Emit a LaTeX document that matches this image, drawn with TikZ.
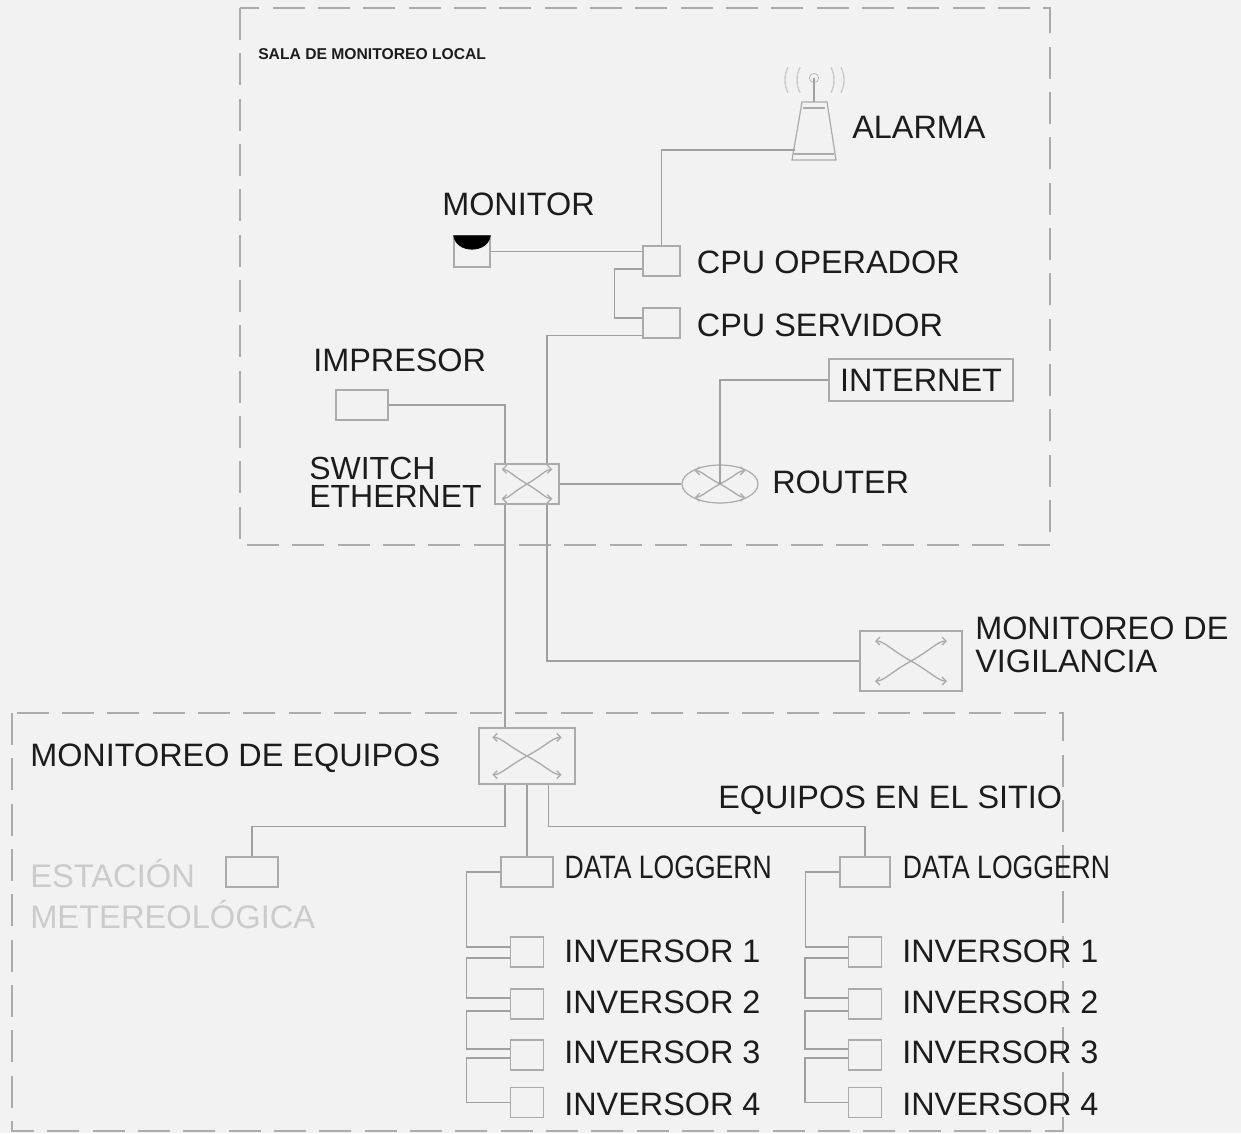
\documentclass[tikz,border=0pt]{standalone}
\usepackage{fontspec}
\setmainfont{Liberation Sans}
\newfontfamily\narrowfont[FakeStretch=0.82]{Liberation Sans}
\usepackage{xcolor}
\usetikzlibrary{arrows.meta,positioning,shapes.geometric}
\definecolor{bgcol}{HTML}{F2F2F2}
\definecolor{linecol}{HTML}{A0A0A0}
\definecolor{framecol}{HTML}{ABABAB}
\definecolor{txtcol}{HTML}{1C1C1C}
\definecolor{palecol}{HTML}{CBCBCB}

\begin{document}
\begin{tikzpicture}[
  x=0.75pt,y=-0.75pt,
  node distance=6mm and 10mm,
  wire/.style={draw=linecol,line width=0.9pt},
  frame/.style={draw=framecol,line width=1pt,dash pattern=on 24pt off 10pt},
  unit/.style={draw=framecol,line width=1pt,inner sep=0pt},
  cpubox/.style={unit,minimum width=27.75pt,minimum height=22.5pt},
  databox/.style={unit,minimum width=39pt,minimum height=22.5pt},
  invbox/.style={unit,minimum width=24.5pt,minimum height=22.5pt},
  swbox/.style={unit,minimum width=48pt,minimum height=30pt},
  txt/.style={inner sep=0pt,text=txtcol,align=left,font=\fontsize{24.3}{24.75}\selectfont},
  dltxt/.style={inner sep=0pt,text=txtcol,font=\narrowfont\fontsize{24.3}{24.75}\selectfont},
  pale/.style={inner sep=0pt,text=palecol,align=left,font=\fontsize{24.5}{31}\selectfont},
  crossarrows/.pic={
    \draw[draw=framecol,line width=1pt,{Straight Barb[length=3pt]}-{Straight Barb[length=3pt]}]
      (-1,-1) .. controls (-0.75,-1) and (-0.55,-0.55) .. (0,0) .. controls (0.55,0.55) and (0.75,1) .. (1,1);
    \draw[draw=framecol,line width=1pt,{Straight Barb[length=3pt]}-{Straight Barb[length=3pt]}]
      (-1,1) .. controls (-0.75,1) and (-0.55,0.55) .. (0,0) .. controls (0.55,-0.55) and (0.75,-1) .. (1,-1);
  }
]
\path[use as bounding box,fill=bgcol] (0,0) rectangle (1241,1133);

% sala de monitoreo local
\draw[frame] (240,8) rectangle (1050,545);
\node[inner sep=0pt,anchor=west,text=txtcol,font=\bfseries\fontsize{11.75}{12}\selectfont] (salatxt) at (258,54) {SALA DE MONITOREO LOCAL};

\coordinate (alarmain) at (795,150);
\node[draw=framecol,circle,inner sep=0pt,minimum size=7pt] (antena) at (814,78) {};
\draw[draw=framecol,line width=0.9pt] (792,160) -- (802,102) -- (827,102) -- (836,160) -- cycle;
\draw[wire] (814,102) -- (antena.center);
\draw[draw=framecol,line width=0.8pt] (803,108) -- (825,108);
\draw[draw=framecol,line width=0.8pt] (794,154) -- (834,154);
\draw[draw=palecol,line width=1pt] (800,67) .. controls (796,76) and (796,84) .. (800,93);
\draw[draw=palecol,line width=1pt] (788,67) .. controls (784,76) and (784,84) .. (788,93);
\draw[draw=palecol,line width=1pt] (831,67) .. controls (835,76) and (835,84) .. (831,93);
\draw[draw=palecol,line width=1pt] (841,67) .. controls (845,76) and (845,84) .. (841,93);
\node[txt,anchor=west] (alarmatxt) at (852,127) {ALARMA};

\node[unit,minimum width=27pt,minimum height=23.25pt] (monitor) at (472,251.5) {};
\fill[black] (monitor.north west) .. controls +(2,19) and +(-2,19) .. (monitor.north east) -- cycle;
\node[txt,anchor=west] (monitortxt) at (442,204) {MONITOR};

\node[cpubox] (cpuop) at (661.5,261) {};
\node[cpubox] (cpuserv) at (661.5,323) {};
\node[txt,right=12pt of cpuop,yshift=-0.75pt] (cpuoptxt) {CPU OPERADOR};
\node[txt,right=12pt of cpuserv,yshift=-1.5pt] (cpuservtxt) {CPU SERVIDOR};

\node[unit,minimum width=39pt,minimum height=22.5pt] (impresor) at (362,405) {};
\node[txt,anchor=west] (impresortxt) at (313,360) {IMPRESOR};

\node[swbox] (sw) at (527,484) {};
\pic[x=19pt,y=11pt] at (sw) {crossarrows};
\node[txt,anchor=west,font=\fontsize{24}{21}\selectfont] (swtxt) at (309,482) {SWITCH\\ETHERNET};

\node[draw=framecol,ellipse,line width=0.9pt,inner sep=0pt,minimum width=57pt,minimum height=28.5pt] (router) at (720,484) {};
\pic[x=19pt,y=10pt] at (router) {crossarrows};
\node[txt,anchor=west] (routertxt) at (772,482) {ROUTER};

\node[draw=framecol,line width=1.2pt,inner sep=0pt,text=txtcol,minimum width=138pt,minimum height=31.5pt,
  font=\fontsize{24.3}{24.5}\selectfont] (internet) at (921,380) {INTERNET};

\draw[wire] (cpuop.north) |- (alarmain);
\draw[wire] (monitor.east) -- (monitor.east -| cpuop.west);
\draw[wire] ([yshift=-6pt]cpuop.west) -- ++(-28,0) |- ([yshift=3.75pt]cpuserv.west);
\draw[wire] ([yshift=-9.4pt]cpuserv.west) -| ([xshift=15pt]sw.north);
\draw[wire] (impresor.east) -| ([xshift=-16.5pt]sw.north);
\draw[wire] (sw.east) -- (router.west);
\draw[wire] (internet.west) -| (router.center);

% vigilancia
\node[swbox,minimum width=76.5pt,minimum height=45pt] (vig) at (911,661) {};
\pic[x=27pt,y=15pt] at (vig) {crossarrows};
\node[txt,anchor=west] (vigtxt) at (975,645) {MONITOREO DE\\VIGILANCIA};
\draw[wire] ([xshift=15pt]sw.south) |- (vig.west);

% equipos en el sitio
\draw[frame] (12,713) rectangle (1063,1131);
\node[swbox,minimum width=72pt,minimum height=42pt] (sweq) at (527,756) {};
\pic[x=26pt,y=14pt] at (sweq) {crossarrows};
\node[txt,anchor=west] (sweqtxt) at (30,758) {MONITOREO DE EQUIPOS};
\node[txt,anchor=west] (sitiotxt) at (718,800) {EQUIPOS EN EL SITIO};
\draw[wire] ([xshift=-16.5pt]sw.south) -- ([xshift=-16.5pt]sweq.north);

\node[databox] (meteo) at (252,872) {};
\node[pale,anchor=west] (meteotxt) at (30,894) {ESTACIÓN\\METEREOLÓGICA};
\node[databox] (dla) at (527,872) {};
\node[databox,minimum width=37.5pt] (dlb) at (865,872) {};
\node[dltxt,right=8pt of dla,yshift=3.75pt] (dlatxt) {DATA LOGGERN};
\node[dltxt,right=9pt of dlb,yshift=3.75pt] (dlbtxt) {DATA LOGGERN};

\node[invbox] (inva) at (527,952) {};
\node[invbox,below=15.5pt of inva] (invb) {};
\node[invbox,below=14.75pt of invb] (invc) {};
\node[invbox,below=12.1pt of invc] (invd) {};
\node[invbox] (inve) at (865,952) {};
\node[invbox,below=15.5pt of inve] (invf) {};
\node[invbox,below=14.75pt of invf] (invg) {};
\node[invbox,below=12.1pt of invg] (invh) {};

\node[txt,right=15pt of inva,yshift=0.75pt] (invatxt) {INVERSOR 1};
\node[txt,right=15pt of invb,yshift=1.5pt] (invbtxt) {INVERSOR 2};
\node[txt,right=15pt of invc,yshift=2.25pt] (invctxt) {INVERSOR 3};
\node[txt,right=15pt of invd,yshift=-1.5pt] (invdtxt) {INVERSOR 4};
\node[txt,right=15pt of inve,yshift=0.75pt] (invetxt) {INVERSOR 1};
\node[txt,right=15pt of invf,yshift=1.5pt] (invftxt) {INVERSOR 2};
\node[txt,right=15pt of invg,yshift=2.25pt] (invgtxt) {INVERSOR 3};
\node[txt,right=15pt of invh,yshift=-1.5pt] (invhtxt) {INVERSOR 4};

\draw[wire] ([xshift=-16.5pt]sweq.south) -- ++(0,42) -| (meteo.north);
\draw[wire] (sweq.south) -- (dla.north);
\draw[wire] ([xshift=16pt]sweq.south) -- ++(0,42) -| (dlb.north);

\draw[wire] (dla.west) -- ++(-34,0) |- ([yshift=3.75pt]inva.west);
\draw[wire] ([yshift=-4.5pt]inva.west) -- ++(-43.5,0) |- ([yshift=4.5pt]invb.west);
\draw[wire] ([yshift=-5.25pt]invb.west) -- ++(-43.5,0) |- ([yshift=4.5pt]invc.west);
\draw[wire] ([yshift=-2.25pt]invc.west) -- ++(-43.5,0) |- (invd.west);

\draw[wire] (dlb.west) -- ++(-34,0) |- ([yshift=3.75pt]inve.west);
\draw[wire] ([yshift=-4.5pt]inve.west) -- ++(-43,0) |- ([yshift=4.5pt]invf.west);
\draw[wire] ([yshift=-5.25pt]invf.west) -- ++(-43,0) |- ([yshift=4.5pt]invg.west);
\draw[wire] ([yshift=-2.25pt]invg.west) -- ++(-43,0) |- (invh.west);
\end{tikzpicture}
\end{document}
